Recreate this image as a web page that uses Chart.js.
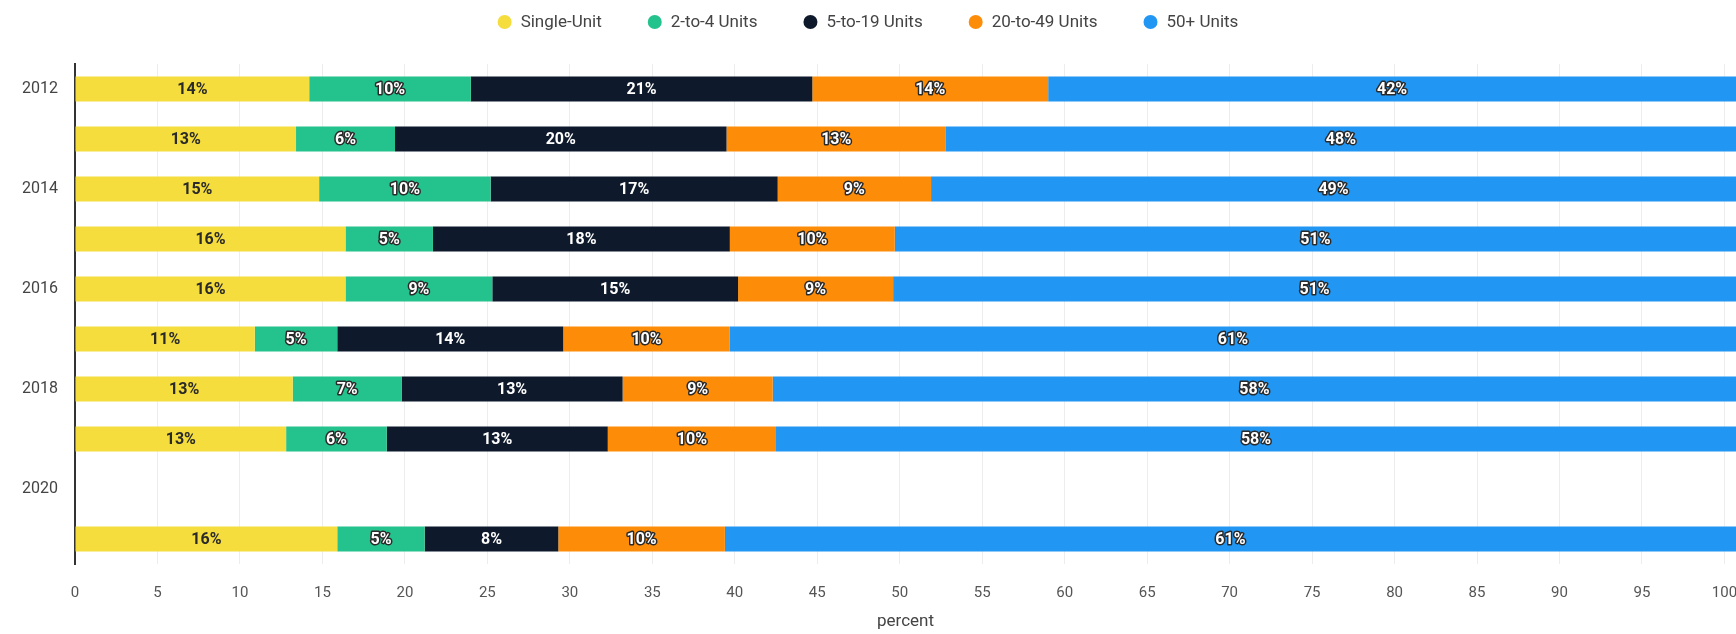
<!DOCTYPE html>
<html>
<head>
<meta charset="utf-8">
<title>Units in structure</title>
<script src="https://cdn.jsdelivr.net/npm/chart.js@4.4.1/dist/chart.umd.min.js"></script>
<style>
  html, body { margin: 0; padding: 0; background: #fff; }
  #wrap { width: 1736px; height: 634px; position: relative; }
</style>
</head>
<body>
<div id="wrap"><canvas id="unitsChart"></canvas></div>
<script>
// years on the y axis, 2020 has no data
const years = ['2012', '2013', '2014', '2015', '2016', '2017', '2018', '2019', '2020', '2021'];

// share of each structure type, percent
const singleUnit        = [14.2, 13.4, 14.8, 16.4, 16.4, 10.9, 13.2, 12.8, null, 15.9];
const twoToFour         = [ 9.8,  6.0, 10.4,  5.3,  8.9,  5.0,  6.6,  6.1, null,  5.3];
const fiveToNineteen    = [20.7, 20.1, 17.4, 18.0, 14.9, 13.7, 13.4, 13.4, null,  8.1];
const twentyToFortyNine = [14.3, 13.3,  9.3, 10.0,  9.4, 10.1,  9.1, 10.2, null, 10.1];
const fiftyPlus         = [42.1, 48.4, 49.2, 51.4, 51.4, 61.4, 58.4, 58.4, null, 61.4];

const percentTicks = [0, 5, 10, 15, 20, 25, 30, 35, 40, 45, 50, 55, 60, 65, 70, 75, 80, 85, 90, 95, 100];
const xMax = 100.7;

const FONT = 'Roboto, "Noto Sans", sans-serif';

// legend drawn as one centered row of dots + names
const legendRow = {
    id: 'legendRow',
    afterDraw(chart) {
        const ctx = chart.ctx;
        const sets = chart.data.datasets;
        const dot = 14, dotGap = 9, itemGap = 46, y = 22;
        ctx.save();
        ctx.font = '17px ' + FONT;
        ctx.textAlign = 'left';
        ctx.textBaseline = 'middle';
        const widths = sets.map(ds => dot + dotGap + ctx.measureText(ds.label).width);
        const total = widths.reduce((a, b) => a + b, 0) + itemGap * (sets.length - 1);
        let x = (chart.width - total) / 2;
        sets.forEach((ds, i) => {
            ctx.fillStyle = ds.backgroundColor;
            ctx.beginPath();
            ctx.arc(x + dot / 2, y, dot / 2, 0, Math.PI * 2);
            ctx.fill();
            ctx.fillStyle = '#444';
            ctx.fillText(ds.label, x + dot + dotGap, y + 1);
            x += widths[i] + itemGap;
        });
        ctx.restore();
    }
};

// percent labels centered in the visible part of each segment
const segmentLabels = {
    id: 'segmentLabels',
    afterDatasetsDraw(chart) {
        const { ctx, chartArea } = chart;
        ctx.save();
        ctx.font = 'bold 16px ' + FONT;
        ctx.textAlign = 'center';
        ctx.textBaseline = 'middle';
        ctx.lineJoin = 'round';
        chart.data.datasets.forEach((ds, di) => {
            chart.getDatasetMeta(di).data.forEach((bar, i) => {
                const v = ds.data[i];
                if (v == null) return;
                const left = Math.max(Math.min(bar.x, bar.base), chartArea.left);
                const right = Math.min(Math.max(bar.x, bar.base), chartArea.right);
                const cx = (left + right) / 2;
                const text = Math.round(v) + '%';
                if (ds.labelStroke) {
                    ctx.lineWidth = 3;
                    ctx.strokeStyle = ds.labelStroke;
                    ctx.strokeText(text, cx, bar.y + 1);
                }
                ctx.fillStyle = ds.labelColor;
                ctx.fillText(text, cx, bar.y + 1);
            });
        });
        ctx.restore();
    }
};

function makeSet(label, data, color, labelColor, labelStroke) {
    return {
        label, data,
        backgroundColor: color,
        borderWidth: 0,
        barPercentage: 1,
        categoryPercentage: 0.5,
        labelColor, labelStroke
    };
}

const ctx = document.getElementById('unitsChart').getContext('2d');
new Chart(ctx, {
    type: 'bar',
    data: {
        labels: years,
        datasets: [
            makeSet('Single-Unit', singleUnit, '#f4dd3c', '#2a2a2a', null),
            makeSet('2-to-4 Units', twoToFour, '#24c28d', '#ffffff', '#2a2a2a'),
            makeSet('5-to-19 Units', fiveToNineteen, '#0e1a2c', '#ffffff', null),
            makeSet('20-to-49 Units', twentyToFortyNine, '#fd8c08', '#ffffff', '#2a2a2a'),
            makeSet('50+ Units', fiftyPlus, '#2196f3', '#ffffff', '#2a2a2a')
        ]
    },
    options: {
        indexAxis: 'y',
        responsive: true,
        maintainAspectRatio: false,
        animation: false,
        layout: { padding: { top: 64, left: 0, right: 0, bottom: 0 } },
        plugins: {
            legend: { display: false },
            tooltip: { enabled: false }
        },
        scales: {
            x: {
                stacked: true,
                min: 0,
                max: xMax,
                afterBuildTicks: scale => { scale.ticks = percentTicks.map(v => ({ value: v })); },
                afterFit: scale => { scale.paddingRight = 0; scale.height = 70; },
                ticks: { padding: 20, color: '#555', font: { family: FONT, size: 15 } },
                grid: { color: '#ededed', lineWidth: 1, drawTicks: false },
                border: { display: false },
                title: {
                    display: true, text: 'percent', color: '#444',
                    font: { family: FONT, size: 17 },
                    padding: { top: 10, bottom: 2 }
                }
            },
            y: {
                stacked: true,
                afterFit: scale => { scale.width = 75; },
                ticks: {
                    padding: 17,
                    color: '#444',
                    font: { family: FONT, size: 16 },
                    callback: function (value, index) { return index % 2 === 0 ? this.getLabelForValue(value) : ''; }
                },
                grid: { display: false, drawTicks: false },
                border: { display: true, color: '#333', width: 2 }
            }
        }
    },
    plugins: [legendRow, segmentLabels]
});
</script>
</body>
</html>
